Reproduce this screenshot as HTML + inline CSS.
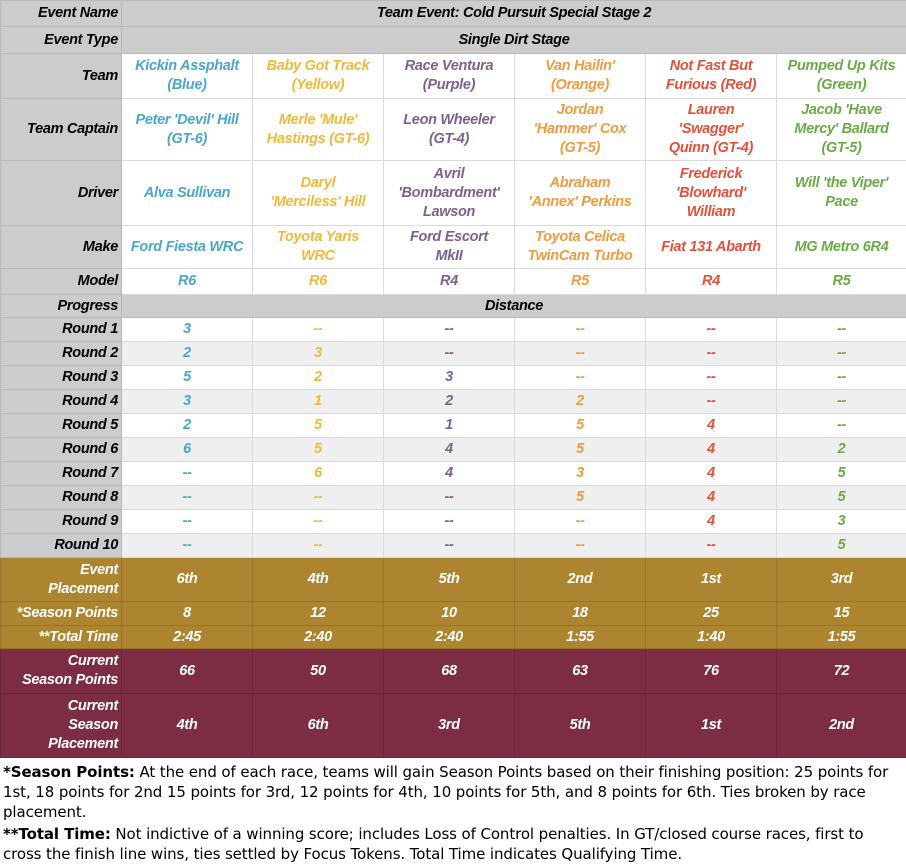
<!DOCTYPE html>
<html><head><meta charset="utf-8"><style>
body{margin:0;background:#fff;width:906px;height:866px;overflow:hidden;font-family:"Liberation Sans",sans-serif}
table{border-collapse:collapse;table-layout:fixed;width:906px}
td{padding:0 2px;text-align:center;vertical-align:middle;font-weight:bold;font-style:italic;font-size:14.5px;line-height:19px;border:1px solid #dadada;overflow:hidden;letter-spacing:-0.3px;white-space:nowrap}
tr.g td{background:#cccccc;border-color:#b8b8b8;color:#000}
tr.s td{background:#efefef}
tr td.h, tr.s td.h{text-align:right;background:#cccccc;color:#000;border-color:#b8b8b8;padding-right:3px}
.b{color:#4aa6cc}.y{color:#f1b93b}.p{color:#7e5f8e}.o{color:#f09b3f}.r{color:#e2513a}.gr{color:#6aab47}
tr.gold td, tr.gold td.h{background:#ad842f;color:#fff;border-color:#9a7428}
tr.mar td, tr.mar td.h{background:#7c2d44;color:#fff;border-color:#6a2539}
.note{font-family:"DejaVu Sans",sans-serif;font-size:15px;line-height:20px;padding:4px 4px 0 3px;color:#000;letter-spacing:-0.1px}
.note b{font-weight:bold}
</style></head><body>
<table>
<colgroup><col style="width:121px"><col style="width:131px"><col style="width:131px"><col style="width:131px"><col style="width:131px"><col style="width:131px"><col style="width:130px"></colgroup>
<tr class="g" style="height:26px"><td class="h">Event Name</td><td colspan="6">Team Event: Cold Pursuit Special Stage 2</td></tr>
<tr class="g" style="height:27px"><td class="h">Event Type</td><td colspan="6">Single Dirt Stage</td></tr>
<tr style="height:45px"><td class="h">Team</td><td class="b">Kickin Assphalt<br>(Blue)</td><td class="y">Baby Got Track<br>(Yellow)</td><td class="p">Race Ventura<br>(Purple)</td><td class="o">Van Hailin'<br>(Orange)</td><td class="r">Not Fast But<br>Furious (Red)</td><td class="gr">Pumped Up Kits<br>(Green)</td></tr>
<tr style="height:62px"><td class="h">Team Captain</td><td class="b">Peter 'Devil' Hill<br>(GT-6)</td><td class="y">Merle 'Mule'<br>Hastings (GT-6)</td><td class="p">Leon Wheeler<br>(GT-4)</td><td class="o">Jordan<br>'Hammer' Cox<br>(GT-5)</td><td class="r">Lauren<br>'Swagger'<br>Quinn (GT-4)</td><td class="gr">Jacob 'Have<br>Mercy' Ballard<br>(GT-5)</td></tr>
<tr style="height:65px"><td class="h">Driver</td><td class="b">Alva Sullivan</td><td class="y">Daryl<br>'Merciless' Hill</td><td class="p">Avril<br>'Bombardment'<br>Lawson</td><td class="o">Abraham<br>'Annex' Perkins</td><td class="r">Frederick<br>'Blowhard'<br>William</td><td class="gr">Will 'the Viper'<br>Pace</td></tr>
<tr style="height:43px"><td class="h">Make</td><td class="b">Ford Fiesta WRC</td><td class="y">Toyota Yaris<br>WRC</td><td class="p">Ford Escort<br>MkII</td><td class="o">Toyota Celica<br>TwinCam Turbo</td><td class="r">Fiat 131 Abarth</td><td class="gr">MG Metro 6R4</td></tr>
<tr style="height:26px"><td class="h">Model</td><td class="b">R6</td><td class="y">R6</td><td class="p">R4</td><td class="o">R5</td><td class="r">R4</td><td class="gr">R5</td></tr>
<tr class="g" style="height:23px"><td class="h">Progress</td><td colspan="6">Distance</td></tr>
<tr style="height:24px"><td class="h">Round 1</td><td class="b">3</td><td class="y">--</td><td class="p">--</td><td class="o">--</td><td class="r">--</td><td class="gr">--</td></tr>
<tr class="s" style="height:24px"><td class="h">Round 2</td><td class="b">2</td><td class="y">3</td><td class="p">--</td><td class="o">--</td><td class="r">--</td><td class="gr">--</td></tr>
<tr style="height:24px"><td class="h">Round 3</td><td class="b">5</td><td class="y">2</td><td class="p">3</td><td class="o">--</td><td class="r">--</td><td class="gr">--</td></tr>
<tr class="s" style="height:24px"><td class="h">Round 4</td><td class="b">3</td><td class="y">1</td><td class="p">2</td><td class="o">2</td><td class="r">--</td><td class="gr">--</td></tr>
<tr style="height:24px"><td class="h">Round 5</td><td class="b">2</td><td class="y">5</td><td class="p">1</td><td class="o">5</td><td class="r">4</td><td class="gr">--</td></tr>
<tr class="s" style="height:24px"><td class="h">Round 6</td><td class="b">6</td><td class="y">5</td><td class="p">4</td><td class="o">5</td><td class="r">4</td><td class="gr">2</td></tr>
<tr style="height:24px"><td class="h">Round 7</td><td class="b">--</td><td class="y">6</td><td class="p">4</td><td class="o">3</td><td class="r">4</td><td class="gr">5</td></tr>
<tr class="s" style="height:24px"><td class="h">Round 8</td><td class="b">--</td><td class="y">--</td><td class="p">--</td><td class="o">5</td><td class="r">4</td><td class="gr">5</td></tr>
<tr style="height:24px"><td class="h">Round 9</td><td class="b">--</td><td class="y">--</td><td class="p">--</td><td class="o">--</td><td class="r">4</td><td class="gr">3</td></tr>
<tr class="s" style="height:24px"><td class="h">Round 10</td><td class="b">--</td><td class="y">--</td><td class="p">--</td><td class="o">--</td><td class="r">--</td><td class="gr">5</td></tr>
<tr class="gold" style="height:44px"><td class="h">Event<br>Placement</td><td>6th</td><td>4th</td><td>5th</td><td>2nd</td><td>1st</td><td>3rd</td></tr>
<tr class="gold" style="height:24px"><td class="h">*Season Points</td><td>8</td><td>12</td><td>10</td><td>18</td><td>25</td><td>15</td></tr>
<tr class="gold" style="height:23px"><td class="h">**Total Time</td><td>2:45</td><td>2:40</td><td>2:40</td><td>1:55</td><td>1:40</td><td>1:55</td></tr>
<tr class="mar" style="height:45px"><td class="h">Current<br>Season Points</td><td>66</td><td>50</td><td>68</td><td>63</td><td>76</td><td>72</td></tr>
<tr class="mar" style="height:64px"><td class="h">Current<br>Season<br>Placement</td><td>4th</td><td>6th</td><td>3rd</td><td>5th</td><td>1st</td><td>2nd</td></tr>
</table>
<div class="note"><b>*Season Points:</b> At the end of each race, teams will gain Season Points based on their finishing position: 25 points for 1st, 18 points for 2nd 15 points for 3rd, 12 points for 4th, 10 points for 5th, and 8 points for 6th. Ties broken by race placement.</div>
<div class="note" style="padding-top:2px"><b>**Total Time:</b> Not indictive of a winning score; includes Loss of Control penalties. In GT/closed course races, first to cross the finish line wins, ties settled by Focus Tokens. Total Time indicates Qualifying Time.</div>
</body></html>
